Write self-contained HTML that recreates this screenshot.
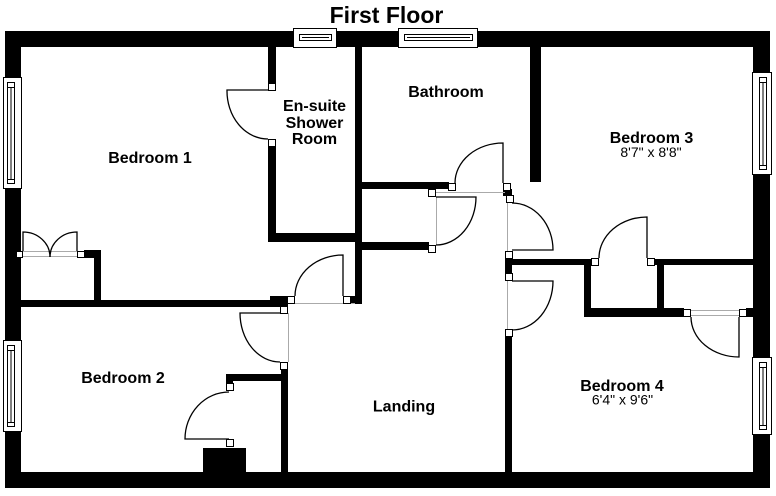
<!DOCTYPE html>
<html><head><meta charset="utf-8"><style>
html,body{margin:0;padding:0;background:#fff;}
svg{display:block;}
text{font-family:"Liberation Sans",Arial,sans-serif;fill:#000;}
.b{font-weight:bold;font-size:16px;}
.d{font-size:14px;}
</style></head><body>
<svg width="776" height="496" viewBox="0 0 776 496" xmlns="http://www.w3.org/2000/svg">
<rect width="776" height="496" fill="#fff"/>
<!-- outer walls -->
<g fill="#000">
<rect x="5" y="31" width="765" height="16"/>
<rect x="5" y="472" width="765" height="16"/>
<rect x="5" y="31" width="16" height="457"/>
<rect x="753" y="31" width="17" height="457"/>
<!-- interior walls -->
<rect x="268" y="47" width="8" height="37"/>
<rect x="268" y="146" width="8" height="96"/>
<rect x="268" y="233" width="94" height="9"/>
<rect x="355" y="47" width="7" height="257"/>
<rect x="362" y="182" width="87" height="7"/>
<rect x="530" y="47" width="11" height="135"/>
<rect x="362" y="242" width="67" height="8"/>
<rect x="21" y="300" width="267" height="7"/>
<rect x="270" y="296" width="18" height="11"/>
<rect x="350" y="296" width="12" height="8"/>
<rect x="84" y="250" width="17" height="8"/>
<rect x="94" y="250" width="7" height="52"/>
<rect x="281" y="369" width="7" height="104"/>
<rect x="226" y="374" width="62" height="7"/>
<rect x="226" y="374" width="7" height="10"/>
<rect x="203" y="448" width="43" height="25"/>
<rect x="505" y="337" width="7" height="136"/>
<rect x="505" y="258" width="7" height="16"/>
<rect x="503" y="189" width="9" height="7"/>
<rect x="512" y="259" width="80" height="6"/>
<rect x="584" y="259" width="7" height="58"/>
<rect x="584" y="308" width="100" height="9"/>
<rect x="657" y="259" width="7" height="50"/>
<rect x="655" y="259" width="98" height="6"/>
<rect x="746" y="308" width="8" height="9"/>
</g>
<!-- windows -->
<g fill="#fff" stroke="#000" stroke-width="1">
<!-- top 1 -->
<rect x="293.5" y="28.5" width="43" height="19"/>
<rect x="299.5" y="34.5" width="32" height="6"/>
<line x1="302" y1="37.5" x2="329" y2="37.5"/>
<!-- top 2 -->
<rect x="398.5" y="28.5" width="79" height="19"/>
<rect x="404.5" y="34.5" width="68" height="6"/>
<line x1="407" y1="37.5" x2="470" y2="37.5"/>
<!-- left 1 -->
<rect x="3.5" y="77.5" width="18" height="111"/>
<rect x="7.5" y="82.5" width="7" height="101"/>
<line x1="11" y1="87" x2="11" y2="179"/>
<line x1="7.5" y1="87.5" x2="14.5" y2="87.5"/>
<line x1="7.5" y1="179.5" x2="14.5" y2="179.5"/>
<!-- left 2 -->
<rect x="3.5" y="340.5" width="18" height="91"/>
<rect x="7.5" y="345.5" width="7" height="81"/>
<line x1="11" y1="350" x2="11" y2="422"/>
<line x1="7.5" y1="350.5" x2="14.5" y2="350.5"/>
<line x1="7.5" y1="422.5" x2="14.5" y2="422.5"/>
<!-- right 1 -->
<rect x="752.5" y="72.5" width="19" height="102"/>
<rect x="759.5" y="77.5" width="7" height="92"/>
<line x1="763" y1="82" x2="763" y2="165"/>
<line x1="759.5" y1="82.5" x2="766.5" y2="82.5"/>
<line x1="759.5" y1="165.5" x2="766.5" y2="165.5"/>
<!-- right 2 -->
<rect x="752.5" y="357.5" width="19" height="77"/>
<rect x="759.5" y="362.5" width="7" height="67"/>
<line x1="763" y1="367" x2="763" y2="425"/>
<line x1="759.5" y1="367.5" x2="766.5" y2="367.5"/>
<line x1="759.5" y1="425.5" x2="766.5" y2="425.5"/>
</g>
<!-- grey opening lines -->
<g stroke="#aaa" stroke-width="1" fill="none">
<line x1="436" y1="192.5" x2="505" y2="192.5"/>
<line x1="436.5" y1="197" x2="436.5" y2="245"/>
<line x1="507.5" y1="203" x2="507.5" y2="251"/>
<line x1="507.5" y1="281" x2="507.5" y2="329"/>
<line x1="295" y1="303.5" x2="355" y2="303.5"/>
<line x1="288.5" y1="313" x2="288.5" y2="362"/>
<line x1="23" y1="251.5" x2="77" y2="251.5"/>
<line x1="23" y1="256.5" x2="77" y2="256.5"/>
<line x1="691" y1="310.5" x2="739" y2="310.5"/>
<line x1="691" y1="315.5" x2="739" y2="315.5"/>
</g>
<!-- door leaves and arcs -->
<g stroke="#000" stroke-width="1.3" fill="none">
<!-- ensuite -->
<path d="M268,90 L227,90 A41,48 0 0 0 268,139"/>
<!-- bathroom -->
<path d="M503,183 L503,143 A48,40 0 0 0 455,183"/>
<!-- airing cupboard -->
<path d="M436,197 L476,197 A40,48 0 0 1 436,245"/>
<!-- bedroom 3 door -->
<path d="M512,250 L553,250 A41,47 0 0 0 512,203"/>
<!-- bedroom 4 door -->
<path d="M512,281 L553,281 A41,49 0 0 1 512,330"/>
<!-- bedroom 1 door -->
<path d="M343,296 L343,255 A48,41 0 0 0 295,296"/>
<!-- bedroom 2 door -->
<path d="M280,313 L240,313 A40,49 0 0 0 280,362"/>
<!-- bedroom 2 cupboard -->
<path d="M229,439 L185,439 A44,47 0 0 1 229,392"/>
<!-- wardrobe double -->
<path d="M23,251 L23,232 A27,25 0 0 1 50,257"/>
<path d="M77,251 L77,232 A27,25 0 0 0 50,257"/>
<!-- bed 3 closet -->
<path d="M647,258 L647,217 A48,41 0 0 0 599,258"/>
<!-- bed 4 cupboard -->
<path d="M739,317 L739,357 A48,40 0 0 1 691,317"/>
</g>
<!-- jambs -->
<g fill="#fff" stroke="#000" stroke-width="1">
<rect x="268.5" y="83.5" width="7" height="7"/>
<rect x="268.5" y="139.5" width="7" height="7"/>
<rect x="448.5" y="183.5" width="7" height="7"/>
<rect x="503.5" y="183.5" width="7" height="7"/>
<rect x="506.5" y="195.5" width="7" height="7"/>
<rect x="505.5" y="251.5" width="7" height="7"/>
<rect x="505.5" y="273.5" width="7" height="7"/>
<rect x="505.5" y="329.5" width="7" height="7"/>
<rect x="428.5" y="189.5" width="7" height="7"/>
<rect x="428.5" y="245.5" width="7" height="7"/>
<rect x="287.5" y="296.5" width="7" height="7"/>
<rect x="343.5" y="296.5" width="7" height="7"/>
<rect x="280.5" y="306.5" width="7" height="7"/>
<rect x="280.5" y="362.5" width="7" height="7"/>
<rect x="226.5" y="383.5" width="7" height="7"/>
<rect x="226.5" y="439.5" width="7" height="7"/>
<rect x="16.5" y="251.5" width="6" height="6"/>
<rect x="77.5" y="251.5" width="7" height="6"/>
<rect x="591.5" y="258.5" width="7" height="7"/>
<rect x="647.5" y="258.5" width="7" height="7"/>
<rect x="683.5" y="309.5" width="7" height="7"/>
<rect x="739.5" y="309.5" width="7" height="7"/>
</g>
<!-- labels -->
<text x="386.5" y="23" text-anchor="middle" font-weight="bold" font-size="23">First Floor</text>
<text class="b" x="150" y="163" text-anchor="middle">Bedroom 1</text>
<text class="b" x="314.5" y="111" text-anchor="middle">En-suite</text>
<text class="b" x="314.5" y="128" text-anchor="middle">Shower</text>
<text class="b" x="314.5" y="144" text-anchor="middle">Room</text>
<text class="b" x="446" y="97" text-anchor="middle">Bathroom</text>
<text class="b" x="651.5" y="143" text-anchor="middle">Bedroom 3</text>
<text class="d" x="651" y="157" text-anchor="middle">8'7" x 8'8"</text>
<text class="b" x="123" y="383" text-anchor="middle">Bedroom 2</text>
<text class="b" x="404" y="411.5" text-anchor="middle">Landing</text>
<text class="b" x="622" y="391" text-anchor="middle">Bedroom 4</text>
<text class="d" x="622.5" y="404.5" text-anchor="middle">6'4" x 9'6"</text>
</svg>
</body></html>
